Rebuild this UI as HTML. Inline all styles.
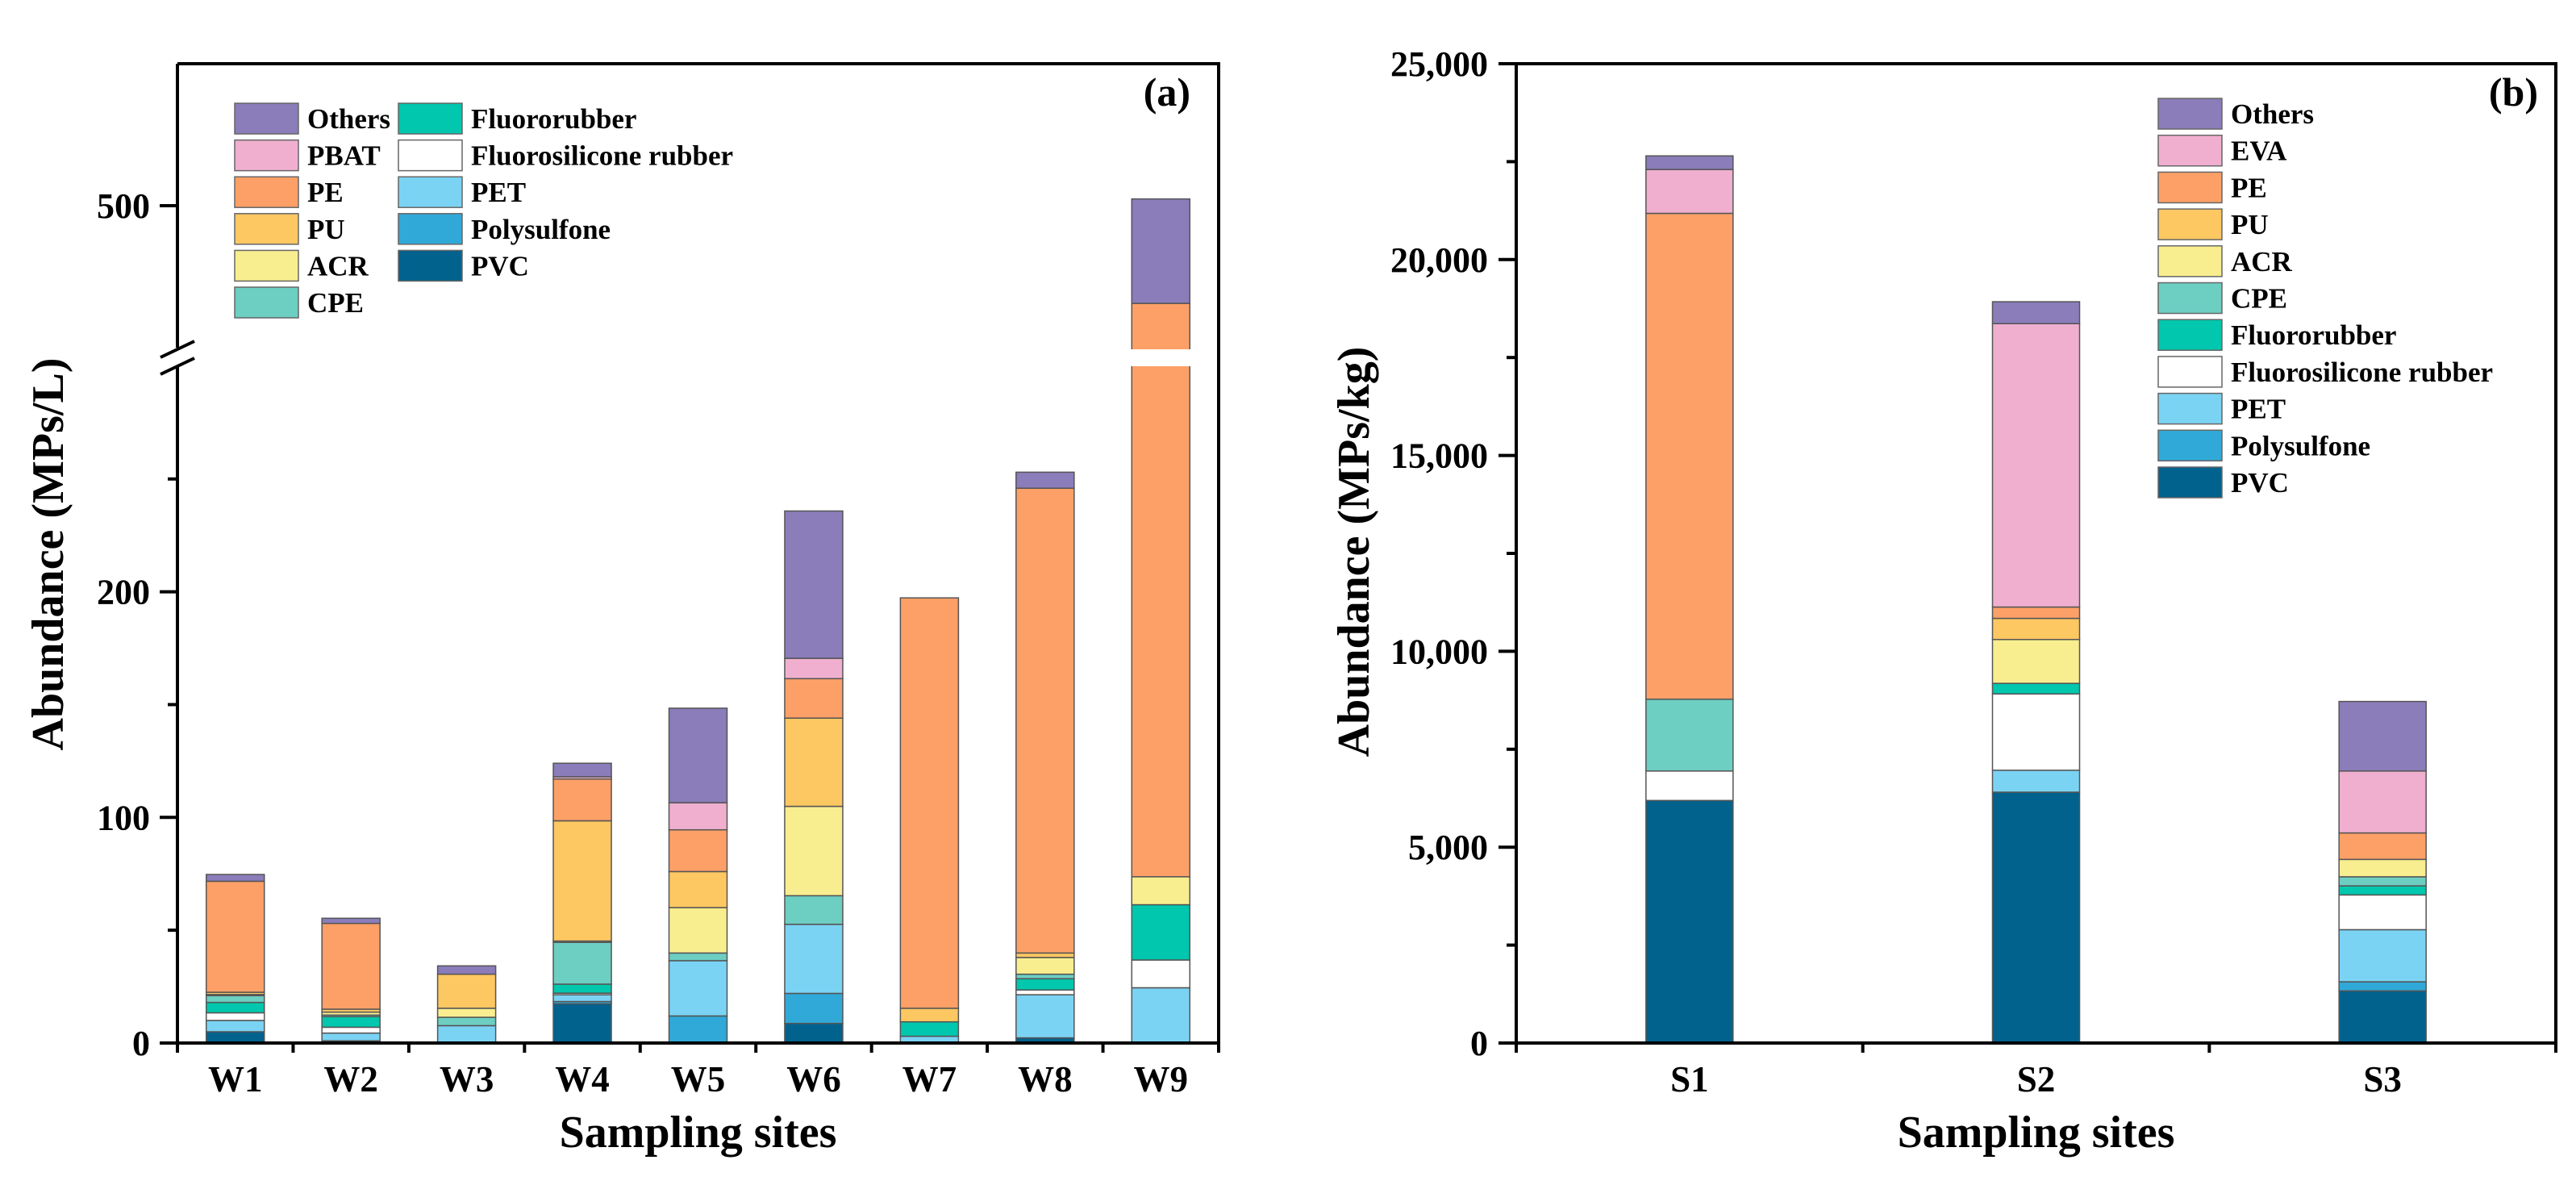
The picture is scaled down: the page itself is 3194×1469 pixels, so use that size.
<!DOCTYPE html>
<html><head><meta charset="utf-8"><style>
html,body{margin:0;padding:0;background:#fff;}
svg{display:block;font-family:"Liberation Serif",serif;font-weight:bold;}
</style></head><body>
<svg id="chart" width="3194" height="1469" viewBox="0 0 3194 1469" xmlns="http://www.w3.org/2000/svg"></svg>
<script>
// ---------- Panel (a) data ----------
const sitesA = ["W1","W2","W3","W4","W5","W6","W7","W8","W9"];
const seriesA = ["PVC","Polysulfone","PET","Fluorosilicone rubber","Fluororubber","CPE","ACR","PU","PE","PBAT","Others"];
const pvcA    = [5,1,0,17.4,0,8.7,0,2.3,0];
const psA     = [0,0,0,1,12,13.3,0,0,0];
const petA    = [5,3.4,7.7,3,24.5,30.6,3,19.1,24.5];
const fsrA    = [3.4,2.6,0,0.7,0,0,0,2.1,12.3];
const frA     = [4.6,4.7,0,4,0,0,6.4,5,24.5];
const cpeA    = [3,0.7,3.7,18.5,3.4,12.7,0,2,0];
const acrA    = [0.5,1.3,4,0.6,20.1,39.6,0,7.4,12.4];
const puA     = [1,1.3,15.1,53.3,16,39.1,6,2,0];
const peA     = [49.2,38,0,18.5,18.5,17.5,181.9,206,383];
const pbatA   = [0,0,0,1,12,9,0,0,0];
const othersA = [3,2.3,3.7,6,41.9,65.3,0,7.1,46.3];
const yTicksA = [0,100,200,500];
const yMinorA = [50,150,250];

// ---------- Panel (b) data ----------
const sitesB = ["S1","S2","S3"];
const seriesB = ["PVC","Polysulfone","PET","Fluorosilicone rubber","Fluororubber","CPE","ACR","PU","PE","EVA","Others"];
const pvcB    = [6192,6404,1331];
const psB     = [0,0,232];
const petB    = [0,560,1331];
const fsrB    = [752,1948,887];
const frB     = [0,270,231];
const cpeB    = [1833,0,232];
const acrB    = [0,1119,444];
const puB     = [0,540,0];
const peB     = [12403,289,675];
const evaB    = [1120,7234,1581];
const othersB = [347,560,1775];
const yTicksB = [0,5000,10000,15000,20000,25000];
const yMinorB = [2500,7500,12500,17500,22500];

const colors = {"PVC":"#02628E","Polysulfone":"#30A9D8","PET":"#7BD3F4","Fluorosilicone rubber":"#FFFFFF","Fluororubber":"#00C7AD","CPE":"#6DCEC2","ACR":"#F8EE8F","PU":"#FDC762","PE":"#FDA067","PBAT":"#F0AFCF","EVA":"#F0AFCF","Others":"#8B7CBA"};

const NS="http://www.w3.org/2000/svg";
const svg=document.getElementById('chart');
function el(tag,attrs,parent){const e=document.createElementNS(NS,tag);for(const k in attrs)e.setAttribute(k,attrs[k]);(parent||svg).appendChild(e);return e;}
function txt(s,attrs,parent){const e=el('text',attrs,parent);e.textContent=s;return e;}

// ---------- Panel A geometry ----------
const aL=220,aR=1511,aT=79,aB=1293;
function yA(v){
  if(v<=300) return aB - v*2.797;
  if(v>=436) return 255 - (v-500)*2.797;
  return 454 - (v-300)*(21/136);
}
const bandA=(aR-aL)/sitesA.length;
function xA(i){return aL+bandA*(i+0.5);}
const dataA=[pvcA,psA,petA,fsrA,frA,cpeA,acrA,puA,peA,pbatA,othersA];

const gA=el('g',{});


sitesA.forEach((s,i)=>{
  let cum=0;
  const g=el('g',{},gA);
  
  
  dataA.forEach((arr,k)=>{
    const v=arr[i]; if(v<=0) return;
    const y0=yA(cum), y1=yA(cum+v); cum+=v;
    const r=el('rect',{x:xA(i)-36,y:y1,width:72,height:y0-y1,fill:colors[seriesA[k]],stroke:'#555','stroke-width':1.5},g);
    
    
  });
});
el('rect',{x:aL+3,y:433,width:aR-aL-6,height:21,fill:'#fff'},gA);
el('path',{d:`M${aL},${aT} H${aR} V${aB} H${aL} V455 M${aL},431 V${aT}`,fill:'none',stroke:'#000','stroke-width':4},gA);
el('line',{x1:199,y1:443,x2:241,y2:423,stroke:'#000','stroke-width':4},gA);
el('line',{x1:199,y1:464,x2:241,y2:444,stroke:'#000','stroke-width':4},gA);
yTicksA.forEach(v=>{
  el('line',{x1:aL-22,x2:aL,y1:yA(v),y2:yA(v),stroke:'#000','stroke-width':4},gA);
  const t=txt(String(v),{x:186,y:yA(v)+15,'font-size':44,'text-anchor':'end'},gA);
  
  
});
yMinorA.forEach(v=>el('line',{x1:aL-12,x2:aL,y1:yA(v),y2:yA(v),stroke:'#000','stroke-width':4},gA));
for(let i=0;i<=sitesA.length;i++){el('line',{x1:aL+bandA*i,x2:aL+bandA*i,y1:aB,y2:aB+12,stroke:'#000','stroke-width':4},gA);}
sitesA.forEach((s,i)=>{const t=txt(s,{x:xA(i),y:1353,'font-size':45,'text-anchor':'middle'},gA);
  });
let t;
t=txt('Sampling sites',{x:(aL+aR)/2,y:1422,'font-size':56,'text-anchor':'middle'},gA);

t=txt('Abundance (MPs/L)',{x:0,y:0,'font-size':56,'text-anchor':'middle',transform:'translate(78,687) rotate(-90)'},gA);

t=txt('(a)',{x:1476,y:131,'font-size':50,'text-anchor':'end'},gA);


const legA=[["Others","PBAT","PE","PU","ACR","CPE"],["Fluororubber","Fluorosilicone rubber","PET","Polysulfone","PVC"]];
const lgA=el('g',{},gA);

legA.forEach((col,c)=>col.forEach((n,r)=>{
  const x=c?494:291, y=128+r*45.6;
  const e=el('rect',{x:x,y:y,width:79,height:38,fill:colors[n],stroke:'#666','stroke-width':1.5},lgA);
  
  const tt=txt(n,{x:x+90,y:y+31,'font-size':35},lgA);
  
}));

// ---------- Panel B ----------
const bL=1880,bR=3169,bT=79,bB=1293;
function yB(v){return bB-(v/25000)*(bB-bT);}
const bandB=(bR-bL)/sitesB.length;
function xB(i){return bL+bandB*(i+0.5);}
const dataB=[pvcB,psB,petB,fsrB,frB,cpeB,acrB,puB,peB,evaB,othersB];
const gB=el('g',{});

sitesB.forEach((s,i)=>{
  let cum=0;
  const g=el('g',{},gB);
  
  
  dataB.forEach((arr,k)=>{
    const v=arr[i]; if(v<=0) return;
    const y0=yB(cum), y1=yB(cum+v); cum+=v;
    const r=el('rect',{x:xB(i)-54,y:y1,width:108,height:y0-y1,fill:colors[seriesB[k]],stroke:'#555','stroke-width':1.5},g);
    
    
  });
});
el('rect',{x:bL,y:bT,width:bR-bL,height:bB-bT,fill:'none',stroke:'#000','stroke-width':4},gB);
yTicksB.forEach(v=>{
  el('line',{x1:bL-22,x2:bL,y1:yB(v),y2:yB(v),stroke:'#000','stroke-width':4},gB);
  const tt=txt(v.toLocaleString('en-US'),{x:1845,y:yB(v)+15,'font-size':44,'text-anchor':'end'},gB);
  
});
yMinorB.forEach(v=>el('line',{x1:bL-12,x2:bL,y1:yB(v),y2:yB(v),stroke:'#000','stroke-width':4},gB));
for(let i=0;i<=sitesB.length;i++){el('line',{x1:bL+bandB*i,x2:bL+bandB*i,y1:bB,y2:bB+12,stroke:'#000','stroke-width':4},gB);}
sitesB.forEach((s,i)=>{const tt=txt(s,{x:xB(i),y:1353,'font-size':45,'text-anchor':'middle'},gB);
  });
t=txt('Sampling sites',{x:(bL+bR)/2,y:1422,'font-size':56,'text-anchor':'middle'},gB);

t=txt('Abundance (MPs/kg)',{x:0,y:0,'font-size':56,'text-anchor':'middle',transform:'translate(1697,684) rotate(-90)'},gB);

t=txt('(b)',{x:3147,y:131,'font-size':50,'text-anchor':'end'},gB);

const legB=["Others","EVA","PE","PU","ACR","CPE","Fluororubber","Fluorosilicone rubber","PET","Polysulfone","PVC"];
const lgB=el('g',{},gB);

legB.forEach((n,r)=>{
  const x=2676,y=122+r*45.7;
  const e=el('rect',{x:x,y:y,width:79,height:38,fill:colors[n],stroke:'#666','stroke-width':1.5},lgB);
  
  const tt=txt(n,{x:x+90,y:y+31,'font-size':35},lgB);
  
});
</script>
</body></html>
